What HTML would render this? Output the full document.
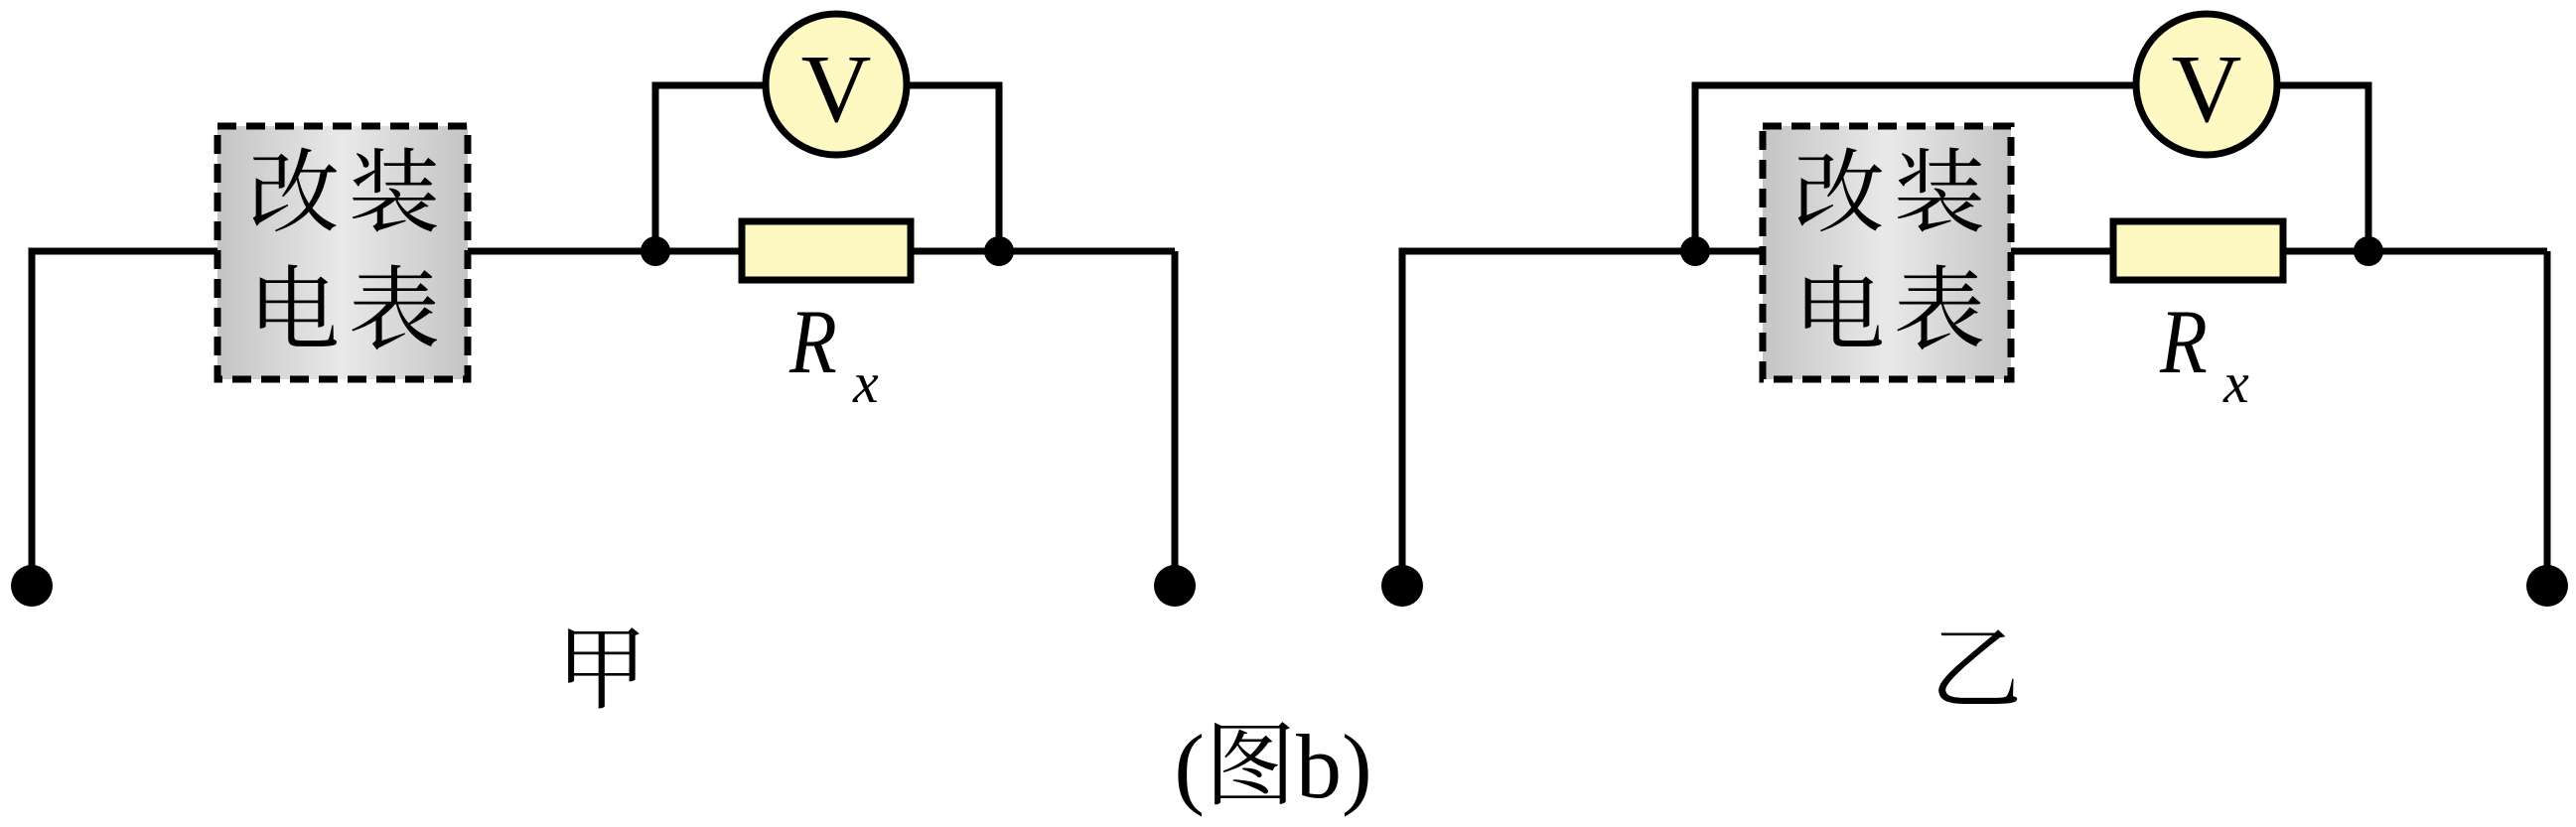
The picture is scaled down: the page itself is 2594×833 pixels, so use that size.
<!DOCTYPE html>
<html><head><meta charset="utf-8"><style>
html,body{margin:0;padding:0;background:#fff;}
svg{display:block;}
</style></head><body>
<svg width="2594" height="833" viewBox="0 0 2594 833" xmlns="http://www.w3.org/2000/svg">
<defs>
<linearGradient id="g" x1="0" x2="1" y1="0" y2="0">
<stop offset="0" stop-color="#c4c4c4"/><stop offset="0.5" stop-color="#e9e9e9"/><stop offset="1" stop-color="#c4c4c4"/>
</linearGradient>
</defs>
<g fill="none" stroke="#000" stroke-width="7">
<polyline points="32,590 32,253 219,253"/>
<line x1="471" y1="253" x2="747" y2="253"/>
<line x1="917" y1="253" x2="1183" y2="253"/>
<polyline points="1183,253 1183,590"/>
<polyline points="660,253 660,86 771,86"/>
<polyline points="913,86 1006,86 1006,253"/>
<polyline points="1412,590 1412,253 1775,253"/>
<line x1="2025" y1="253" x2="2128" y2="253"/>
<line x1="2299" y1="253" x2="2565" y2="253"/>
<polyline points="2565,253 2565,590"/>
<polyline points="1707,253 1707,86 2151,86"/>
<polyline points="2293,86 2385,86 2385,253"/>
</g>
<rect x="219" y="127" width="252" height="255" fill="url(#g)" stroke="#000" stroke-width="7" stroke-dasharray="19 10"/>
<rect x="1775" y="127" width="250" height="255" fill="url(#g)" stroke="#000" stroke-width="7" stroke-dasharray="19 10"/>
<rect x="747" y="223" width="170" height="59" fill="#fef9c2" stroke="#000" stroke-width="7"/>
<rect x="2128" y="223" width="171" height="59" fill="#fef9c2" stroke="#000" stroke-width="7"/>
<circle cx="842" cy="85" r="71" fill="#fef9c2" stroke="#000" stroke-width="7"/>
<circle cx="2222" cy="85" r="71" fill="#fef9c2" stroke="#000" stroke-width="7"/>
<g fill="#000">
<circle cx="660" cy="253" r="15"/><circle cx="1006" cy="253" r="15"/>
<circle cx="1707" cy="253" r="15"/><circle cx="2385" cy="253" r="15"/>
<circle cx="32" cy="590" r="21"/><circle cx="1183" cy="590" r="21"/>
<circle cx="1412" cy="590" r="21"/><circle cx="2565" cy="590" r="21"/>
</g>
<g font-family="'Liberation Serif','Noto Serif CJK SC',serif" fill="#000">
<text x="842" y="122" font-size="98" text-anchor="middle">V</text>
<text x="2222" y="122" font-size="98" text-anchor="middle">V</text>
<g font-size="92" text-anchor="middle" dominant-baseline="central">
<text x="296" y="195">改</text><text x="397" y="195">装</text>
<text x="296" y="313">电</text><text x="397" y="313">表</text>
<text x="1852" y="195">改</text><text x="1953" y="195">装</text>
<text x="1852" y="313">电</text><text x="1953" y="313">表</text>
<text x="606" y="675">甲</text>
<text x="1990" y="675">乙</text>
</g>
<text x="795" y="375" font-size="92" font-style="italic" transform="translate(795 375) scale(0.85 1) translate(-795 -375)">R</text>
<text x="859" y="405" font-size="58" font-style="italic">x</text>
<text x="2175" y="375" font-size="92" font-style="italic" transform="translate(2175 375) scale(0.85 1) translate(-2175 -375)">R</text>
<text x="2239" y="405" font-size="58" font-style="italic">x</text>
<text x="1282" y="803" font-size="92" text-anchor="middle">(图b)</text>
</g>
</svg>
</body></html>
